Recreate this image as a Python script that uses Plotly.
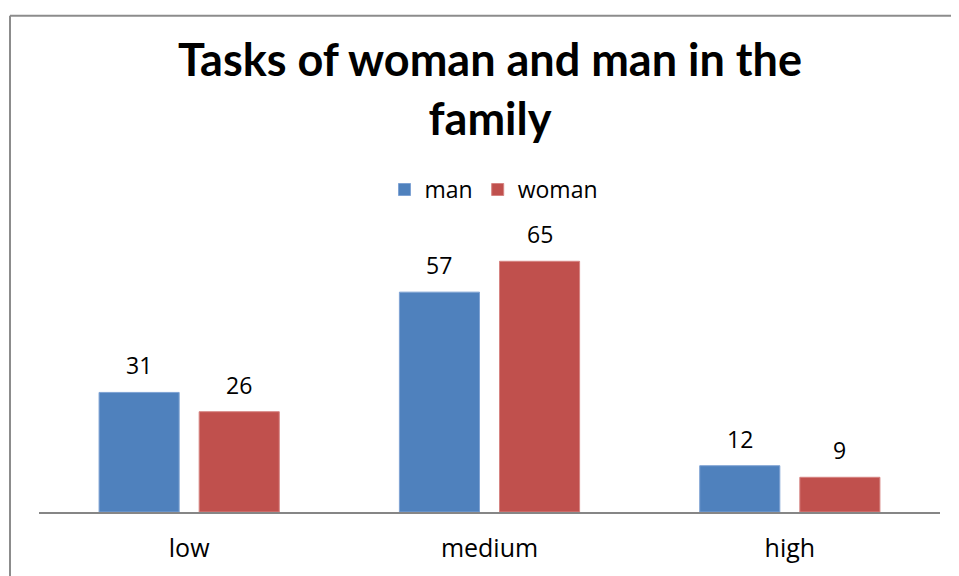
import plotly.graph_objects as go

categories = ["low", "medium", "high"]
man_values = [31, 57, 12]
woman_values = [26, 65, 9]
series_names = ["man", "woman"]
title_text = "Tasks of woman and man in the<br>family"

W, H = 951, 568
L, R, T, B = 31, 19, 234, 56
plot_w = W - L - R
plot_h = H - T - B

fig = go.Figure()
colors = ["#4F81BD", "#C0504D"]
lines = ["#7FA3D4", "#D68482"]
offsets = [-0.3, 0.0333]
for name, vals, c, lc, off in zip(series_names, [man_values, woman_values], colors, lines, offsets):
    fig.add_trace(go.Bar(
        x=categories, y=vals, name=name,
        marker=dict(color=c, line=dict(color=lc, width=1)),
        width=0.2667, offset=off,
    ))
    for cat, v in zip(categories, vals):
        fig.add_annotation(
            x=cat, y=v, text=str(v), showarrow=False,
            xshift=(off + 0.2667 / 2) * plot_w / 3,
            yshift=27, yanchor="middle",
            font=dict(family="Open Sans", size=23, color="#000000"),
        )

# outer chart border (left and top visible)
left_x = (2 - L) / plot_w
top_y = (H - B - 1) / plot_h
fig.add_shape(type="line", xref="paper", yref="paper",
              x0=left_x, x1=left_x, y0=-1, y1=top_y,
              line=dict(color="#8C8C8C", width=2))
fig.add_shape(type="line", xref="paper", yref="paper",
              x0=left_x, x1=(W - L) / plot_w, y0=top_y, y1=top_y,
              line=dict(color="#8C8C8C", width=2))

fig.update_layout(
    width=W, height=H,
    margin=dict(l=L, r=R, t=T, b=B),
    paper_bgcolor="white", plot_bgcolor="white",
    title=dict(text="<b>" + title_text + "</b>", x=482 / W, xanchor="center",
               y=1 - 68 / H, yanchor="middle",
               font=dict(family="Lato", size=45, color="#000000")),
    showlegend=True,
    legend=dict(orientation="h", x=(486 - L) / plot_w, xanchor="center",
                y=(H - B - 180) / plot_h, yref="paper", yanchor="middle",
                font=dict(family="Open Sans", size=23, color="#000000"),
                itemwidth=30, traceorder="normal"),
    xaxis=dict(showline=True, linecolor="#868686", linewidth=2, mirror=False,
               tickfont=dict(family="Open Sans", size=25, color="#000000"),
               ticks="", ticklabelstandoff=13, showgrid=False,
               range=[-0.5, 2.5], fixedrange=True),
    yaxis=dict(range=[0, 70], visible=False, showgrid=False, showline=False),
    barmode="group",
)

fig.write_html("out.html")
